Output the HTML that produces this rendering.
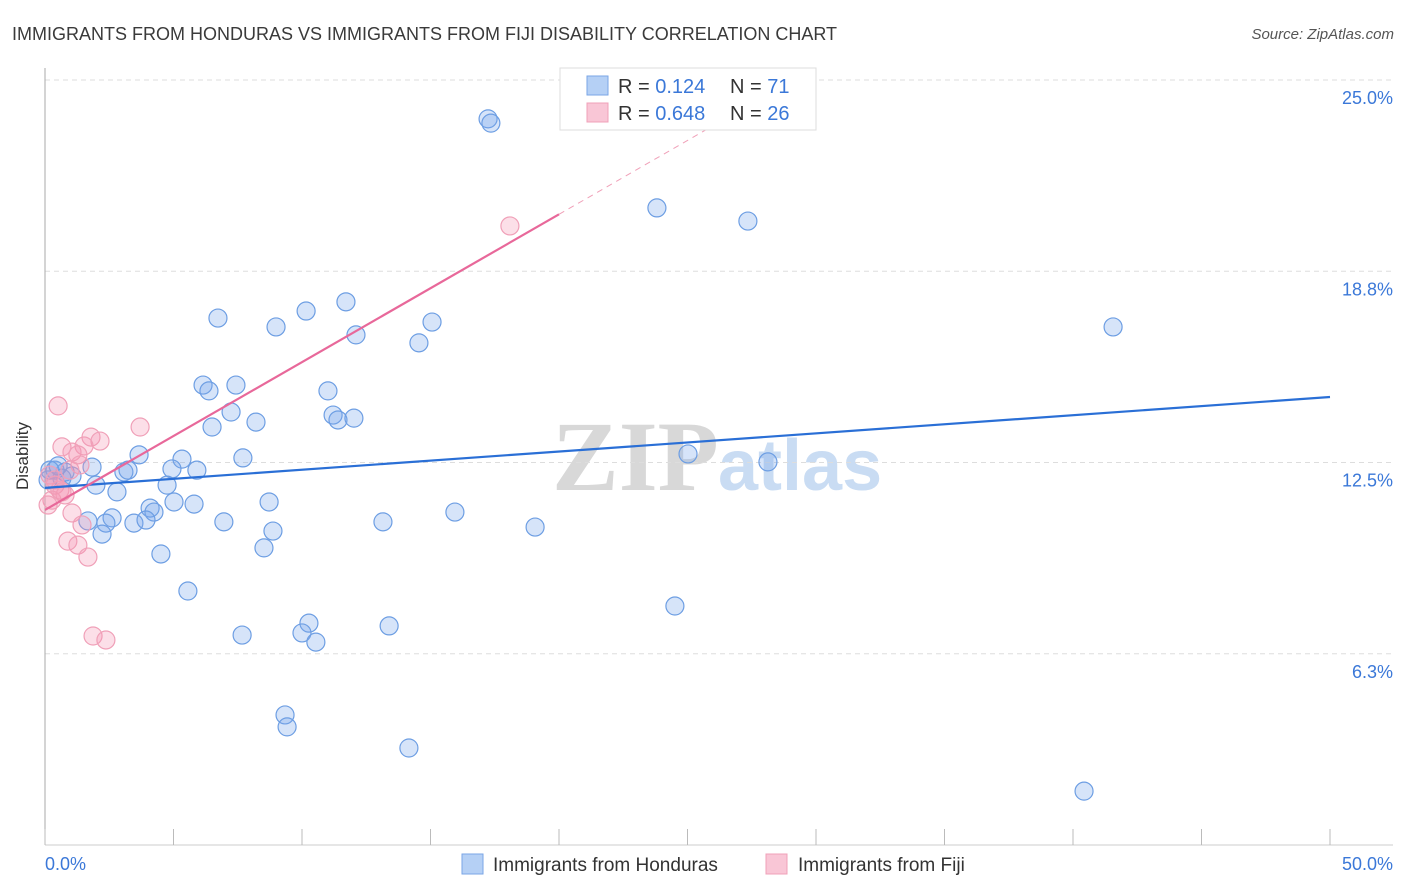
<!DOCTYPE html>
<html><head><meta charset="utf-8"><style>
body{margin:0;background:#fff;font-family:"Liberation Sans",sans-serif;}
svg{display:block}
</style></head><body>
<svg width="1406" height="892" xmlns="http://www.w3.org/2000/svg">
<text x="12" y="40" font-size="18" fill="#3a3a3a">IMMIGRANTS FROM HONDURAS VS IMMIGRANTS FROM FIJI DISABILITY CORRELATION CHART</text>
<text x="1394" y="39" font-size="15" fill="#555" font-style="italic" text-anchor="end">Source: ZipAtlas.com</text>
<g>
<text x="552" y="490" font-size="100" font-family="Liberation Serif,serif" fill="#d8d8d8" font-weight="bold">ZIP</text>
<text x="718" y="490" font-size="72" fill="#c9dcf3" font-weight="bold">atlas</text>
</g>
<g id="grid"></g>
<g id="axes"></g>
<g id="marks"></g>
<text x="28" y="456" font-size="17" fill="#333" text-anchor="middle" transform="rotate(-90 28 456)">Disability</text>
<g>
<rect x="560" y="68" width="256" height="62" fill="#fff" stroke="#ddd"/>
<rect x="587" y="76" width="21" height="19" fill="#b5d0f5" stroke="#7aa6e6"/>
<rect x="587" y="103" width="21" height="19" fill="#f9c6d6" stroke="#f0a0b8"/>
<text x="618" y="93" font-size="20" fill="#333">R = <tspan fill="#3b78d8"> 0.124</tspan></text>
<text x="730" y="93" font-size="20" fill="#333">N = <tspan fill="#3b78d8"> 71</tspan></text>
<text x="618" y="120" font-size="20" fill="#333">R = <tspan fill="#3b78d8">0.648</tspan></text>
<text x="730" y="120" font-size="20" fill="#333">N = <tspan fill="#3b78d8">26</tspan></text>
</g>
<g>
<rect x="462" y="854" width="21" height="20" fill="#b5d0f5" stroke="#7aa6e6"/>
<text x="493" y="871" font-size="19" fill="#333">Immigrants from Honduras</text>
<rect x="766" y="854" width="21" height="20" fill="#f9c6d6" stroke="#f0a0b8"/>
<text x="798" y="871" font-size="19" fill="#333">Immigrants from Fiji</text>
</g>
</svg>
<script>
const blueX=[17.24,17.35,23.81,27.35,41.56,11.71,10.16,6.73,8.99,15.06,12.10,14.55,6.15,7.43,6.38,11.01,11.21,11.40,12.02,7.24,8.21,6.50,3.66,5.33,7.70,25.02,28.13,4.94,5.91,3.07,3.23,1.83,0.78,0.39,0.66,1.98,4.75,2.80,5.02,5.80,8.72,4.09,4.24,15.95,2.61,1.67,2.37,3.46,3.93,6.96,13.15,19.07,2.22,8.87,8.52,4.51,5.56,24.51,10.27,13.39,7.67,10.00,10.54,9.34,9.42,14.16,40.43,0.19,1.05,0.12,0.51];
const blueY=[23.73,23.59,20.82,20.39,16.93,17.75,17.45,17.22,16.93,17.09,16.67,16.41,15.03,15.03,14.84,14.84,14.05,13.89,13.95,14.15,13.82,13.66,12.75,12.61,12.65,12.78,12.52,12.29,12.25,12.19,12.25,12.35,12.19,12.25,11.99,11.76,11.76,11.54,11.21,11.14,11.21,11.01,10.88,10.88,10.69,10.59,10.52,10.52,10.62,10.56,10.56,10.39,10.16,10.26,9.71,9.51,8.30,7.81,7.25,7.16,6.86,6.93,6.63,4.25,3.86,3.17,1.76,12.25,12.06,11.93,12.39];
const pinkX=[0.51,3.70,1.79,2.14,0.66,1.52,1.05,1.28,1.36,0.97,0.19,0.39,0.58,0.78,0.27,0.12,1.05,1.44,0.89,1.28,1.67,1.87,2.37,18.09,0.66,0.39];
const pinkY=[14.35,13.66,13.33,13.20,13.01,13.04,12.84,12.75,12.42,12.25,12.09,11.76,11.60,11.44,11.27,11.11,10.85,10.46,9.93,9.80,9.41,6.83,6.70,20.23,11.54,11.93];
const blueTrend=[11.67,14.64];
const pinkTrend=[10.95,0.483];
const yTicks=[25,18.75,12.5,6.25];
const yTickLabels=["25.0%","18.8%","12.5%","6.3%"];
const xTicks=[0,5,10,15,20,25,30,35,40,45,50];
const NS="http://www.w3.org/2000/svg";
const X=v=>45+v*25.7, Y=v=>845-v*30.6;
function mk(t,a,p){const e=document.createElementNS(NS,t);for(const k in a)e.setAttribute(k,a[k]);p.appendChild(e);return e;}
const grid=document.getElementById('grid'),axes=document.getElementById('axes'),marks=document.getElementById('marks');
yTicks.forEach((v,i)=>{
 const l=mk('line',{x1:45,x2:1393,y1:Y(v),y2:Y(v),stroke:'#ddd','stroke-dasharray':'5,4'},grid);
 
 
 const t=mk('text',{x:1393,y:Y(v)+24,'font-size':18,fill:'#3b78d8','text-anchor':'end'},axes);
 t.textContent=yTickLabels[i];
 
 
});
const ax=mk('line',{x1:45,x2:45,y1:68,y2:845,stroke:'#aaa'},axes);


const bx=mk('line',{x1:45,x2:1393,y1:845,y2:845,stroke:'#ccc'},axes);


xTicks.forEach(v=>{
 const l=mk('line',{x1:X(v),x2:X(v),y1:829,y2:845,stroke:'#bbb'},axes);
 
 
});
const x0=mk('text',{x:45,y:870,'font-size':18,fill:'#3b78d8'},axes);x0.textContent='0.0%';


const x1=mk('text',{x:1393,y:870,'font-size':18,fill:'#3b78d8','text-anchor':'end'},axes);x1.textContent='50.0%';


blueX.forEach((v,i)=>{
 const c=mk('circle',{cx:X(v),cy:Y(blueY[i]),r:9,fill:'rgba(120,165,235,0.3)',stroke:'#6d9ee3','stroke-width':1.2},marks);
 
 
});
pinkX.forEach((v,i)=>{
 const c=mk('circle',{cx:X(v),cy:Y(pinkY[i]),r:9,fill:'rgba(245,150,180,0.3)',stroke:'#f0a0b8','stroke-width':1.2},marks);
 
 
});
const bl=mk('line',{x1:X(0),y1:Y(blueTrend[0]),x2:X(50),y2:Y(blueTrend[1]),stroke:'#2a6fd6','stroke-width':2.2},marks);


const pl=mk('line',{x1:X(0),y1:Y(pinkTrend[0]),x2:X(20),y2:Y(pinkTrend[0]+20*pinkTrend[1]),stroke:'#e8689a','stroke-width':2.2},marks);


const pd=mk('line',{x1:X(20),y1:Y(pinkTrend[0]+20*pinkTrend[1]),x2:X(28),y2:Y(pinkTrend[0]+28*pinkTrend[1]),stroke:'#f0a0b8','stroke-width':1,'stroke-dasharray':'6,5'},marks);


</script>
</body></html>
